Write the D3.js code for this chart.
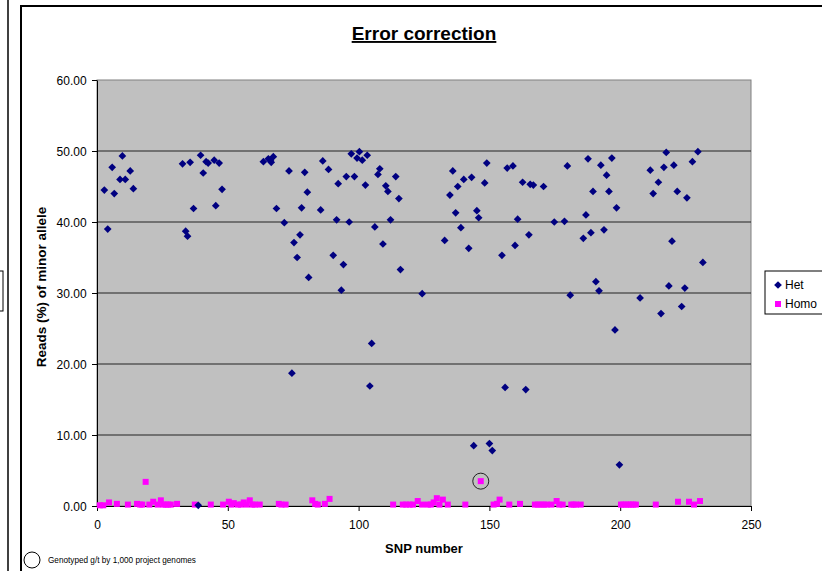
<!DOCTYPE html>
<html>
<head>
<meta charset="utf-8">
<script src="https://d3js.org/d3.v7.min.js"></script>
<style>
  body { margin: 0; background: #fff; }
  svg { font-family: "Liberation Sans", Arial, sans-serif; }
</style>
</head>
<body>
<div id="chart"></div>
<script>
// Het points: SNP number and reads (%) of minor allele
var hetSnp = [2.8, 4.1, 5.8, 6.6, 8.8, 9.7, 10.8, 12.7, 13.9,
  32.7, 33.9, 34.6, 35.6, 36.9, 38.7, 39.6, 40.6, 41.7, 42.5, 44.8, 45.4, 46.7, 47.8,
  63.6, 65.5, 66.3, 66.6, 67.4, 68.6, 71.6, 73.4, 74.5, 75.3, 76.5, 77.6, 78.2, 79.4, 80.4, 80.9,
  85.5, 86.3, 88.5, 90.3, 91.6, 92.2, 93.4, 94.2, 95.3, 96.4, 97.2, 98.4, 99.4, 100.3, 101.4,
  102.6, 103.3, 104.3, 105.0, 106.2, 107.4, 108.1, 109.3, 110.4, 111.2, 112.2, 114.2, 115.4, 116.0,
  124.3, 132.9, 134.9, 136.0, 137.1, 137.9, 139.1, 140.2, 142.1, 143.2, 144.0, 145.2, 145.9,
  148.2, 149.0, 150.0, 151.1, 154.8, 156.0, 156.8, 159.0, 159.8, 160.8, 162.7, 163.9, 165.1,
  165.6, 166.8, 170.7, 174.8, 178.7, 179.8, 180.9, 185.9, 186.9, 187.7, 188.8, 189.6, 190.7,
  191.9, 192.6, 193.8, 194.8, 195.7, 196.8, 198.0, 198.6, 199.7, 207.6, 211.5, 212.6, 214.6,
  215.6, 216.7, 217.6, 218.6, 219.8, 220.5, 221.8, 223.5, 224.7, 225.5, 227.6, 229.7, 231.6];
var hetReads = [44.5, 39.0, 47.7, 44.0, 46.0, 49.3, 46.0, 47.2, 44.7,
  48.2, 38.7, 38.0, 48.4, 41.9, 0.1, 49.4, 46.9, 48.5, 48.3, 48.7, 42.3, 48.3, 44.6,
  48.5, 48.9, 48.7, 48.4, 49.2, 41.9, 39.9, 47.2, 18.7, 37.1, 35.0, 38.2, 42.0, 47.0, 44.2, 32.2,
  41.7, 48.6, 47.4, 35.3, 40.3, 45.4, 30.4, 34.0, 46.4, 40.0, 49.6, 46.4, 49.0, 49.9, 48.7,
  45.2, 49.4, 16.9, 22.9, 39.3, 46.7, 47.5, 36.9, 45.1, 44.3, 40.3, 46.4, 43.3, 33.3,
  29.9, 37.4, 43.8, 47.2, 41.3, 45.0, 39.2, 46.0, 36.3, 46.3, 8.5, 41.6, 40.6,
  45.5, 48.3, 8.8, 7.8, 35.3, 16.7, 47.6, 47.9, 36.7, 40.4, 45.6, 16.4, 38.2,
  45.3, 45.2, 45.0, 40.0, 40.1, 47.9, 29.7, 37.7, 41.0, 48.9, 38.5, 44.3, 31.6,
  30.3, 48.0, 38.9, 46.6, 44.3, 49.0, 24.8, 42.0, 5.8, 29.3, 47.3, 44.0, 45.6,
  27.1, 47.7, 49.8, 31.0, 37.3, 48.0, 44.3, 28.1, 30.7, 43.4, 48.5, 49.9, 34.3];

// Homo points
var homoSnp = [1.1, 2.4, 4.6, 7.6, 11.8, 15.3, 16.5, 17.3, 18.6, 20.0, 21.5, 23.2, 24.4, 25.3, 26.3,
  27.2, 28.2, 30.6, 37.4, 43.5, 48.2, 50.4, 51.4, 52.3, 53.9, 55.0, 56.1, 57.2, 58.4, 59.4, 60.3,
  62.2, 69.5, 70.5, 72.1, 82.3, 83.4, 84.4, 87.1, 88.9, 113.2, 116.9, 118.2, 119.5, 120.8, 122.6,
  124.3, 126.5, 127.6, 128.7, 129.9, 130.9, 132.2, 134.1, 140.8, 146.7, 151.6, 152.9, 153.9,
  157.6, 161.7, 167.4, 168.5, 169.7, 170.8, 171.9, 173.7, 175.7, 176.7, 178.0, 181.3, 182.2,
  183.1, 184.9, 200.3, 201.2, 202.2, 203.2, 204.1, 205.0, 206.0, 213.6, 222.1, 226.3, 228.2, 230.5];
var homoReads = [0.1, 0.1, 0.5, 0.3, 0.2, 0.3, 0.2, 0.2, 3.4, 0.2, 0.6, 0.2, 0.8, 0.2, 0.2,
  0.2, 0.2, 0.3, 0.2, 0.2, 0.2, 0.6, 0.2, 0.4, 0.2, 0.2, 0.5, 0.2, 0.8, 0.2, 0.2,
  0.2, 0.3, 0.2, 0.2, 0.8, 0.3, 0.2, 0.3, 1.0, 0.2, 0.2, 0.2, 0.2, 0.2, 0.7,
  0.2, 0.2, 0.2, 0.5, 1.1, 0.2, 0.9, 0.2, 0.2, 3.5, 0.2, 0.3, 0.9,
  0.2, 0.3, 0.2, 0.2, 0.2, 0.2, 0.2, 0.2, 0.7, 0.2, 0.2, 0.2, 0.2,
  0.2, 0.2, 0.2, 0.2, 0.2, 0.2, 0.2, 0.2, 0.2, 0.2, 0.6, 0.6, 0.2, 0.7];

// point that was genotyped by the 1,000 genomes project
var circled = [146.7, 3.5];

var xTicks = [0, 50, 100, 150, 200, 250];
var yTicks = [0, 10, 20, 30, 40, 50, 60];

const w = 822, h = 571;
const plotLeft = 97, plotRight = 751, plotTop = 80, plotBottom = 506;

const svg = d3.select("#chart").append("svg")
  .attr("width", w)
  .attr("height", h);

// remains of the neighbouring chart on the left
svg.append("line").attr("x1", 8).attr("x2", 8).attr("y1", 0).attr("y2", h)
  .attr("stroke", "#000").attr("stroke-width", 1.5);
svg.append("rect").attr("x", -10).attr("y", 271).attr("width", 13).attr("height", 40)
  .attr("fill", "#fff").attr("stroke", "#000");

// chart frame
svg.append("rect").attr("x", 21).attr("y", 6).attr("width", 820).attr("height", 600)
  .attr("fill", "#fff").attr("stroke", "#000").attr("stroke-width", 2);

const x = d3.scaleLinear().domain([0, 250]).range([plotLeft, plotRight]);
const y = d3.scaleLinear().domain([0, 60]).range([plotBottom, plotTop]);

// plot area
svg.append("rect")
  .attr("x", x(0)).attr("y", y(60))
  .attr("width", x(250) - x(0)).attr("height", y(0) - y(60))
  .attr("fill", "#c0c0c0").attr("stroke", "#808080");

// gridlines
svg.append("g").selectAll("line")
  .data(yTicks.filter(d => d > 0 && d < 60))
  .enter().append("line")
  .attr("x1", x(0)).attr("x2", x(250))
  .attr("y1", d => y(d)).attr("y2", d => y(d))
  .attr("stroke", "#222").attr("stroke-width", 1);

// axes
const xAxis = d3.axisBottom(x).tickValues(xTicks).tickSize(5).tickSizeOuter(0);
const yAxis = d3.axisLeft(y).tickValues(yTicks).tickFormat(d3.format(".2f")).tickSize(5).tickSizeOuter(0);

const gx = svg.append("g").attr("transform", "translate(0," + plotBottom + ")").call(xAxis);
const gy = svg.append("g").attr("transform", "translate(" + plotLeft + ",0)").call(yAxis);
[gx, gy].forEach(g => {
  g.selectAll("text").attr("font-size", 12).attr("fill", "#000")
    .attr("font-family", "Liberation Sans, Arial, sans-serif");
  g.selectAll("line, path").attr("stroke", "#000");
});
gx.selectAll("text").attr("dy", "1.25em");
gy.selectAll("text").attr("dx", "-0.2em").attr("dy", "0.35em");

// homo squares
svg.append("g").selectAll("rect")
  .data(homoSnp.map((d, i) => [d, homoReads[i]]))
  .enter().append("rect")
  .attr("x", d => x(d[0]) - 3).attr("y", d => y(d[1]) - 3)
  .attr("width", 6).attr("height", 6)
  .attr("fill", "#ff00ff");

// het diamonds
const diamond = d3.symbol().type(d3.symbolDiamond2).size(38);
svg.append("g").selectAll("path")
  .data(hetSnp.map((d, i) => [d, hetReads[i]]))
  .enter().append("path")
  .attr("d", diamond)
  .attr("transform", d => "translate(" + x(d[0]) + "," + y(d[1]) + ")")
  .attr("fill", "#000080");

// circle around the genotyped point
svg.append("circle")
  .attr("cx", x(circled[0])).attr("cy", y(circled[1])).attr("r", 8)
  .attr("fill", "none").attr("stroke", "#222").attr("stroke-width", 1);

// title
svg.append("text")
  .attr("x", 424).attr("y", 40)
  .attr("text-anchor", "middle")
  .attr("font-size", 19).attr("font-weight", "bold")
  .attr("text-decoration", "underline")
  .text("Error correction");

// axis titles
svg.append("text")
  .attr("x", (plotLeft + plotRight) / 2).attr("y", 553)
  .attr("text-anchor", "middle")
  .attr("font-size", 13).attr("font-weight", "bold")
  .text("SNP number");

svg.append("text")
  .attr("transform", "translate(46,287) rotate(-90)")
  .attr("text-anchor", "middle")
  .attr("font-size", 13.5).attr("font-weight", "bold")
  .text("Reads (%) of minor allele");

// legend
const legend = svg.append("g");
legend.append("rect").attr("x", 765).attr("y", 271).attr("width", 70).attr("height", 43)
  .attr("fill", "#fff").attr("stroke", "#000");
legend.append("path").attr("d", diamond)
  .attr("transform", "translate(778,285)").attr("fill", "#000080");
legend.append("rect").attr("x", 775).attr("y", 301).attr("width", 6).attr("height", 6)
  .attr("fill", "#ff00ff");
legend.append("text").attr("x", 785).attr("y", 289).attr("font-size", 12).text("Het");
legend.append("text").attr("x", 785).attr("y", 308).attr("font-size", 12).text("Homo");

// footnote
svg.append("circle").attr("cx", 32).attr("cy", 560).attr("r", 8)
  .attr("fill", "none").attr("stroke", "#000");
svg.append("text").attr("x", 48).attr("y", 563)
  .attr("font-size", 8.2).text("Genotyped g/t by 1,000 project genomes");
</script>
</body>
</html>
